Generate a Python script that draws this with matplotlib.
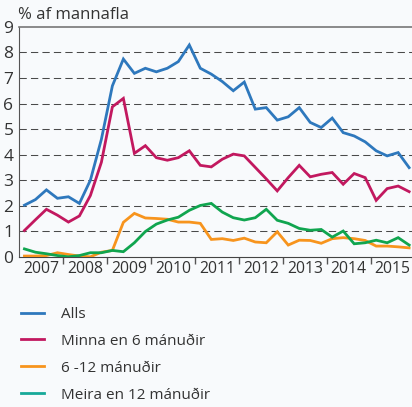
import numpy as np
import matplotlib
matplotlib.use('Agg')
import matplotlib.pyplot as plt
from matplotlib.lines import Line2D

# ársfjórðungar 2007 - 2015
ar = np.arange(2007, 2016)
x = np.array([a + (q - 0.5) / 4 for a in ar for q in range(1, 5)])

alls = [2.02, 2.24, 2.62, 2.29, 2.35, 2.09, 3.0, 4.6, 6.69, 7.74, 7.18, 7.38,
        7.24, 7.38, 7.64, 8.29, 7.38, 7.15, 6.86, 6.5, 6.84, 5.78, 5.84, 5.35,
        5.48, 5.84, 5.26, 5.06, 5.43, 4.86, 4.73, 4.5, 4.15, 3.95, 4.08, 3.49]
minna6 = [1.03, 1.45, 1.86, 1.63, 1.36, 1.6, 2.4, 3.7, 5.87, 6.2, 4.05, 4.35,
          3.88, 3.78, 3.88, 4.15, 3.58, 3.52, 3.82, 4.02, 3.95, 3.5, 3.05, 2.58,
          3.1, 3.58, 3.13, 3.23, 3.3, 2.84, 3.26, 3.1, 2.21, 2.67, 2.77, 2.55]
m6_12 = [0.03, 0.03, 0.05, 0.16, 0.09, 0.03, 0.0, 0.18, 0.25, 1.35, 1.7, 1.52,
         1.5, 1.47, 1.36, 1.36, 1.31, 0.68, 0.71, 0.64, 0.73, 0.58, 0.55, 0.98,
         0.46, 0.65, 0.64, 0.53, 0.71, 0.75, 0.71, 0.64, 0.42, 0.42, 0.39, 0.35]
meira12 = [0.31, 0.18, 0.12, 0.05, 0.0, 0.05, 0.16, 0.16, 0.25, 0.2, 0.55, 0.99,
           1.28, 1.44, 1.55, 1.82, 2.01, 2.09, 1.75, 1.53, 1.44, 1.53, 1.86, 1.43,
           1.31, 1.11, 1.04, 1.07, 0.77, 1.01, 0.51, 0.55, 0.65, 0.55, 0.75, 0.46]

heiti = ['Alls', 'Minna en 6 mánuðir', '6 -12 mánuðir', 'Meira en 12 mánuðir']
litir = ['#2e78bd', '#c2185f', '#f7941d', '#10a54f']
litir_skyring = ['#2e78bd', '#c2185f', '#f7941d', '#17a999']

plt.rcParams['font.family'] = ['Open Sans', 'DejaVu Sans']
bakgrunnur = '#f8fafc'
textalitur = '#333333'

fig = plt.figure(figsize=(4.12, 4.07), dpi=100, facecolor=bakgrunnur)
ax = fig.add_axes([0.046, 0.369, 0.954, 0.565], facecolor=bakgrunnur)

for y, c in zip([alls, minna6, m6_12, meira12], litir):
    ax.plot(x, y, color=c, lw=2.0, solid_joinstyle='miter', zorder=3)

# láréttar strikalínur
for v in range(1, 9):
    ax.axhline(v, color='#4a4a4a', lw=0.75, ls=(0, (7, 4)), zorder=1)

ax.set_xlim(2007, 2015.94)
ax.set_ylim(0, 9)

ax.set_yticks(range(0, 10))
ax.tick_params(axis='y', length=0, pad=4, labelsize=12.5, labelcolor=textalitur)

ax.set_xticks(np.arange(2008, 2016))
ax.set_xticklabels([])
ax.set_xticks(ar + 0.5, minor=True)
ax.set_xticklabels([str(a) for a in ar], minor=True)
ax.tick_params(axis='x', which='major', direction='out', length=5, width=1, color='#555555')
ax.tick_params(axis='x', which='minor', length=0, pad=3, labelsize=11.3, labelcolor=textalitur)

ax.spines['right'].set_visible(False)
ax.spines['top'].set_color('#777777')
ax.spines['top'].set_linewidth(1.2)
ax.spines['left'].set_color('#555555')
ax.spines['bottom'].set_color('#444444')

fig.text(0.044, 0.962, '% af mannafla', fontsize=12, color=textalitur, va='center', ha='left')

handles = [Line2D([], [], color=c, lw=2.0) for c in litir_skyring]
fig.legend(handles, heiti, loc='upper left', bbox_to_anchor=(0.051, 0.246),
           frameon=False, fontsize=11, handlelength=1.5, handletextpad=1.1,
           labelspacing=0.78, borderpad=0, borderaxespad=0, labelcolor=textalitur)

fig.savefig('out.png', dpi=100, facecolor=bakgrunnur)
